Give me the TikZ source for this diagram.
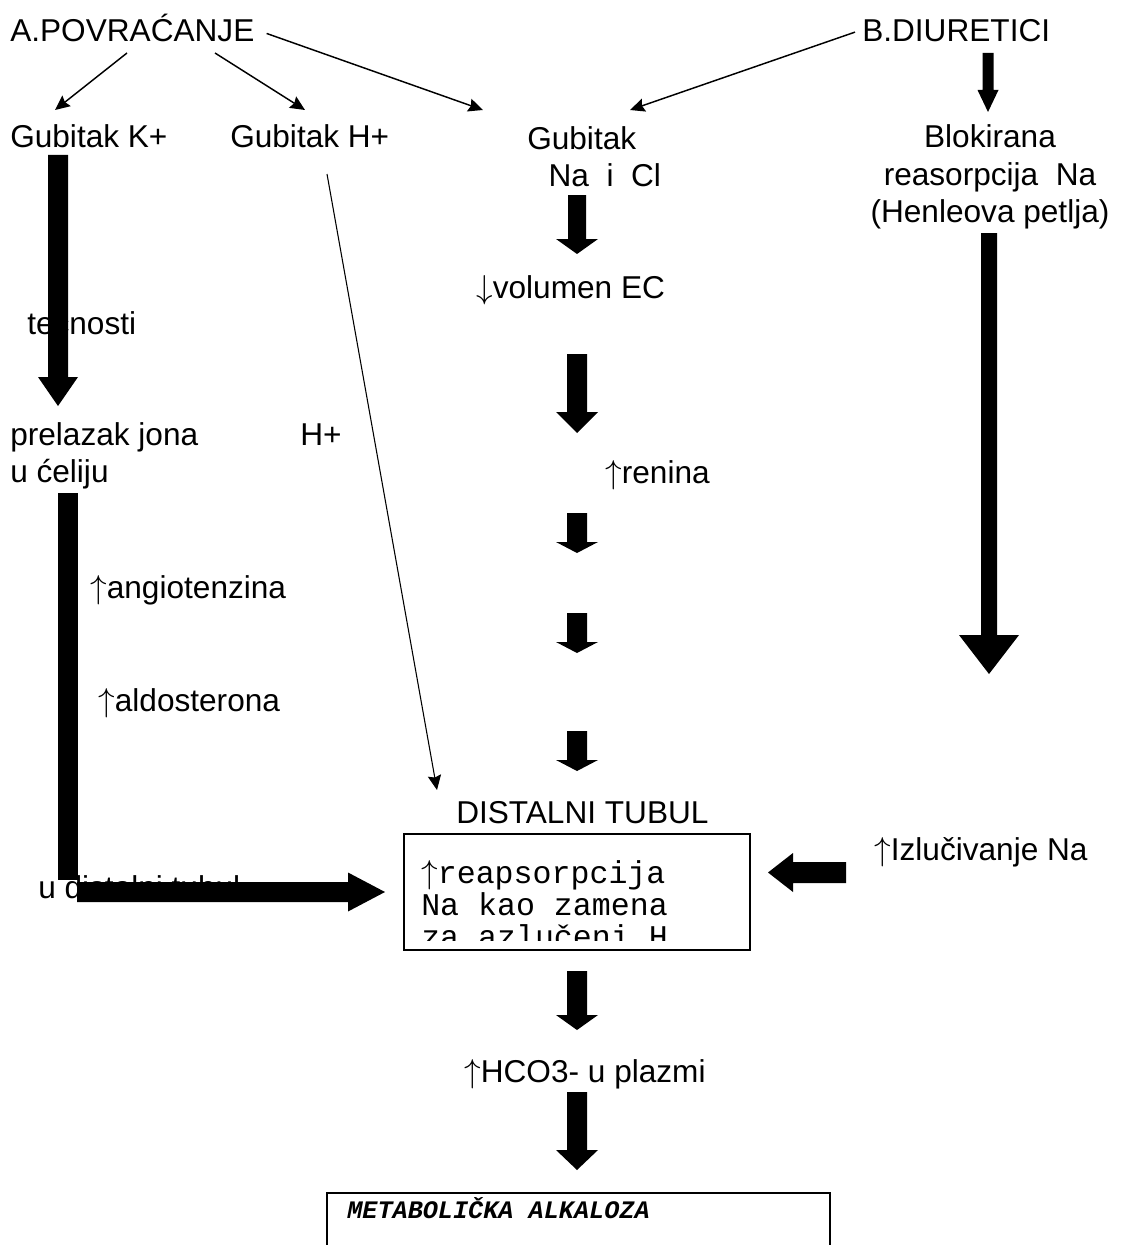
\documentclass[tikz,border=0pt]{standalone}
\usepackage{fontspec}
\setmainfont{Liberation Sans}
\setmonofont{Liberation Mono}
\usetikzlibrary{arrows.meta}
\newcommand{\uparr}{\(\uparrow\)}
\newcommand{\dnarr}{\(\downarrow\)}
\newcommand{\fatdown}[6]{\fill (#1-#5,#2) -- (#1+#5,#2) -- (#1+#5,#3) -- (#1+#6,#3) -- (#1,#4) -- (#1-#6,#3) -- (#1-#5,#3) -- cycle;}
\newcommand{\fatside}[6]{\fill (#2,#1-#5) -- (#3,#1-#5) -- (#3,#1-#6) -- (#4,#1) -- (#3,#1+#6) -- (#3,#1+#5) -- (#2,#1+#5) -- cycle;}
\begin{document}
\begin{tikzpicture}[x=0.75pt, y=-0.75pt,
    every node/.style={inner sep=0pt, font=\fontsize{23.7}{27.75}\selectfont},
    thinarr/.style={-{Stealth[length=11pt,width=10pt,inset=1.5pt]}, line width=1.1pt},
    mono/.style={font=\ttfamily\fontsize{23.7}{24}\selectfont},
    box/.style={draw, line width=1.2pt, anchor=north west}]

    \useasboundingbox (0,0) rectangle (1121,1245);

    \node[anchor=base west] (povr) at (10,42) {A.POVRAĆANJE};
    \node[anchor=base west] (diur) at (862,42) {B.DIURETICI};
    \node[anchor=base west] (gubK) at (10,148) {Gubitak K+};
    \node[anchor=base west] (gubH) at (230,148) {Gubitak H+};
    \node[anchor=base west, align=left] (gubNa) at (527,186) {Gubitak\\\hspace*{16pt}Na\ \ i\ \ Cl};
    \node[anchor=base, align=center] (blok) at (990,222) {Blokirana\\reasorpcija\ \ Na\\(Henleova petlja)};
    \node[anchor=base west] (volEC) at (476,298) {\dnarr volumen EC};
    \node[anchor=base west] (tecn) at (27,334) {tečnosti};
    \node[anchor=base west, align=left] (prel) at (10,482) {prelazak jona\\u ćeliju};
    \node[anchor=base west] (hplus) at (300,445) {H+};
    \node[anchor=base west] (renin) at (605,483) {\uparr renina};
    \node[anchor=base west] (angio) at (90,598) {\uparr angiotenzina};
    \node[anchor=base west] (aldo) at (98,711) {\uparr aldosterona};
    \node[anchor=base west] (distT) at (456,823) {DISTALNI TUBUL};
    \node[anchor=base west] (izluc) at (874,860) {\uparr Izlučivanje Na};
    \node[anchor=base west] (udist) at (38,898) {u distalni tubul};
    \node[anchor=base west] (hco) at (464,1082) {\uparr HCO3- u plazmi};

    \node[box, minimum width=259.5pt, minimum height=87pt] (tubul) at (403,833) {};
    \begin{scope}
        \clip (tubul.north west) rectangle ([yshift=7.5pt]tubul.south east);
        \node[mono, anchor=base west, align=left] (reaps) at (421,947) {\uparr reapsorpcija\\Na kao zamena\\za azlučeni H};
    \end{scope}

    \node[box, minimum width=377.25pt, minimum height=75pt] (alkbox) at (326,1192) {};
    \node[anchor=base west, font=\ttfamily\bfseries\itshape\fontsize{18.9}{22}\selectfont] (alk) at (347,1218) {METABOLIČKA ALKALOZA};

    \draw[thinarr] ([shift={(117,11)}]povr.base west) -- ([shift={(45,-38)}]gubK.base west);
    \draw[thinarr] ([shift={(205,11)}]povr.base west) -- ([shift={(75,-38)}]gubH.base west);
    \draw[thinarr] ([shift={(12,5)}]povr.east) -- ([shift={(-44,-76)}]gubNa.base west);
    \draw[thinarr] ([shift={(-7,1)}]diur.west) -- ([shift={(103,-76)}]gubNa.base west);
    \draw[thinarr, line width=0.8pt] ([shift={(97,26)}]gubH.base west) -- ([shift={(-19,-33)}]distT.base west);

    \fatdown{58}{155}{377}{406}{10}{20}
    \fill (58,493) rectangle (78,880);
    \fatside{892}{77}{348}{385}{10}{19.5}
    \fatdown{577}{195}{239}{254}{9}{21}
    \fatdown{577}{354}{412}{433}{10}{21}
    \fatdown{577}{513}{542}{553}{10}{21}
    \fatdown{577}{613}{642}{653}{10}{21}
    \fatdown{577}{731}{760}{771}{10}{21}
    \fatdown{577}{971}{1015}{1030}{10}{21}
    \fatdown{577}{1092}{1150}{1170}{10}{21}
    \fatdown{988}{53}{90}{112}{5.5}{10.5}
    \fatdown{989}{233}{635}{674}{8}{30}
    \fatside{872.5}{846}{793}{768}{10.5}{19.5}
\end{tikzpicture}
\end{document}
